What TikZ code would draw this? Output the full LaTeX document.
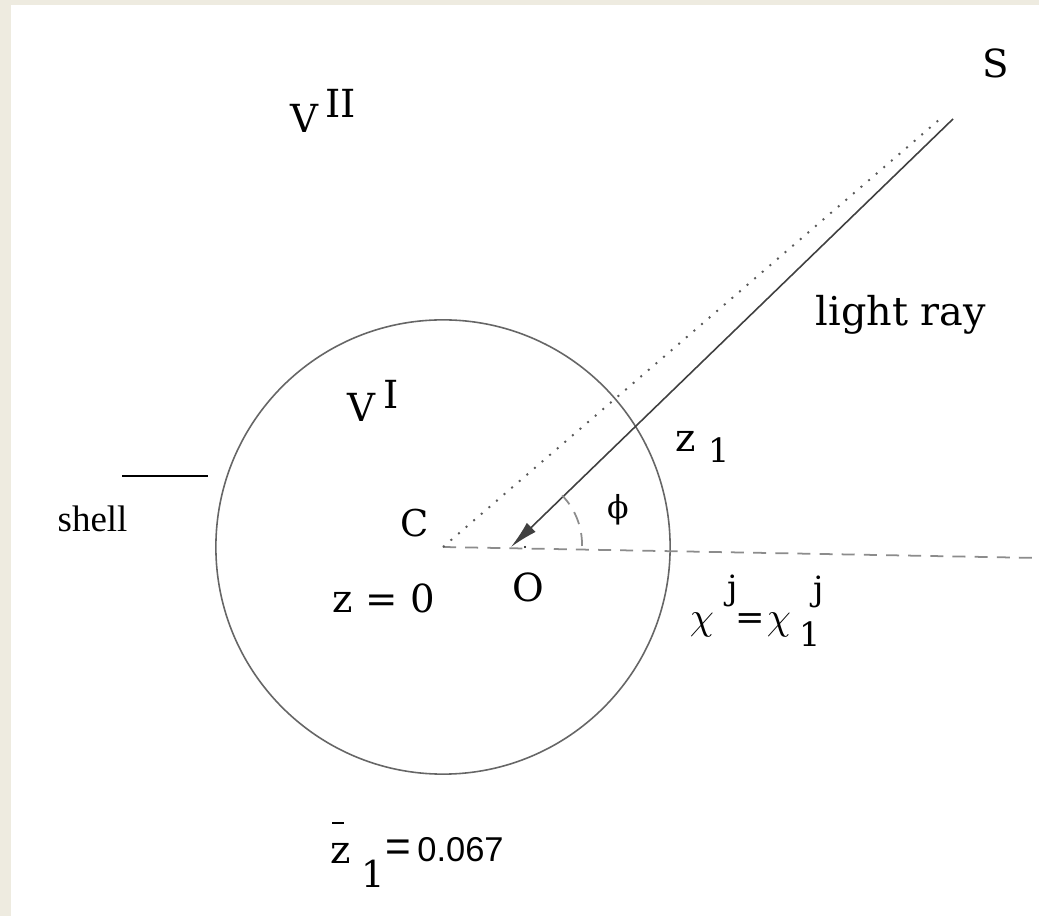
\documentclass[tikz,border=0pt]{standalone}
\usepackage{fontspec}
\setmainfont{DejaVu Serif}
\newfontfamily\timesfont{Liberation Serif}
\newfontfamily\helvfont{Liberation Sans}
\usepackage{xcolor}
\usepackage{tikz}
\usetikzlibrary{arrows.meta,positioning,calc}
\definecolor{paper}{RGB}{238,235,224}
\newlength\px
\setlength\px{0.01cm}

\begin{document}
\begin{tikzpicture}[
        x=0.01cm, y=-0.01cm,
        >={Latex[length=8pt,width=3.6pt]},
        lbl/.style={inner sep=0pt,anchor=base west,font=\fontsize{11}{13}\selectfont},
        sym/.style={inner sep=0pt,anchor=center,font=\fontsize{11}{13}\selectfont},
        small/.style={inner sep=0pt,anchor=center,font=\fontsize{9.5}{11}\selectfont},
        shellline/.style={draw,line width=0.5pt},
        ray/.style={draw=black!75,line width=0.45pt},
        axis/.style={draw=black!45,line width=0.5pt,dash pattern=on 3.7pt off 2.6pt},
        sight/.style={draw=black!65,line width=0.55pt,dash pattern=on 0.55pt off 2.3pt}
      ]
        \useasboundingbox (0,0) rectangle (1039,916);
        \fill[paper] (0,0) rectangle (1039,916);
        \fill[white] (11,5) rectangle (1039,916);
        % points
        \coordinate (C)    at (443,547);
        \coordinate (O)    at (511,547);
        \coordinate (S)    at (953,119);
        \coordinate (Stop) at (940,119);
        \coordinate (far)  at (1039,558);
        \coordinate (shellL) at (122,476);
        \coordinate (shellR) at (208,476);
        % shell
        \draw[black!60,line width=0.45pt] (C) circle[radius=2.27cm];
        \draw[axis] (C) -- (far);
        \draw[sight] (C) -- (Stop);
        \draw[ray,->] (S) -- (O);
        \draw[axis] ([shift={(0.71cm,0.01cm)}]O) arc[start angle=-1,end angle=44,radius=0.71cm];
        \fill (525,547) circle[radius=0.35pt];
        \draw[shellline] (shellL) -- (shellR);
        % labels
        \node[lbl] (Slbl)   at (982,78)  {S};
        \node[lbl] (VII)    at (290,133) {V\hspace{7\px}\raisebox{15\px}{II}};
        \node[lbl] (ray)    at (815,326) {\fontsize{11.3}{13}\selectfont light ray};
        \node[lbl] (VI)     at (347,422) {V\hspace{8\px}\raisebox{13\px}{I}};
        \node[lbl] (z1)     at (675,452) {z\hspace{12\px}\raisebox{-11\px}{\fontsize{9.5}{11}\selectfont 1}};
        \node[lbl,font=\timesfont\fontsize{10.5}{12}\selectfont] (shell) at (57,532) {shell};
        \node[lbl,font=\fontsize{10.5}{12}\selectfont] (Clbl) at (400,537) {C};
        \node[lbl] (Olbl)   at (512,602) {O};
        \node[lbl] (z0)     at (332,613) {z = 0};
        \node[sym,font=\fontsize{9}{11}\selectfont] (phi) at (618,510) {\symbol{"03D5}};
        % chi^j = chi_1^j
        \node[sym] (chiA)   at (702,625) {$\chi$};
        \node[small] (jA)   at (733,591) {j};
        \node[small,font=\fontsize{10}{12}\selectfont] (eq) at (750,622) {=};
        \node[sym] (chiB)   at (779,625) {$\chi$};
        \node[small] (jB)   at (819,592) {j};
        \node[small] (oneB) at (810,634) {1};
        % bar z_1 = 0.067
        \node[sym] (zbar)   at (341,853) {z};
        \draw[line width=0.45pt] (332,823) -- (344,823);
        \node[sym,font=\fontsize{10.5}{12}\selectfont] (zone) at (373,874) {1};
        \node[lbl,font=\helvfont\fontsize{9.8}{11}\selectfont] (val) at (385,862)
          {{\fontsize{12.5}{13}\selectfont=}\hspace{6\px}0.067};
\end{tikzpicture}
\end{document}
